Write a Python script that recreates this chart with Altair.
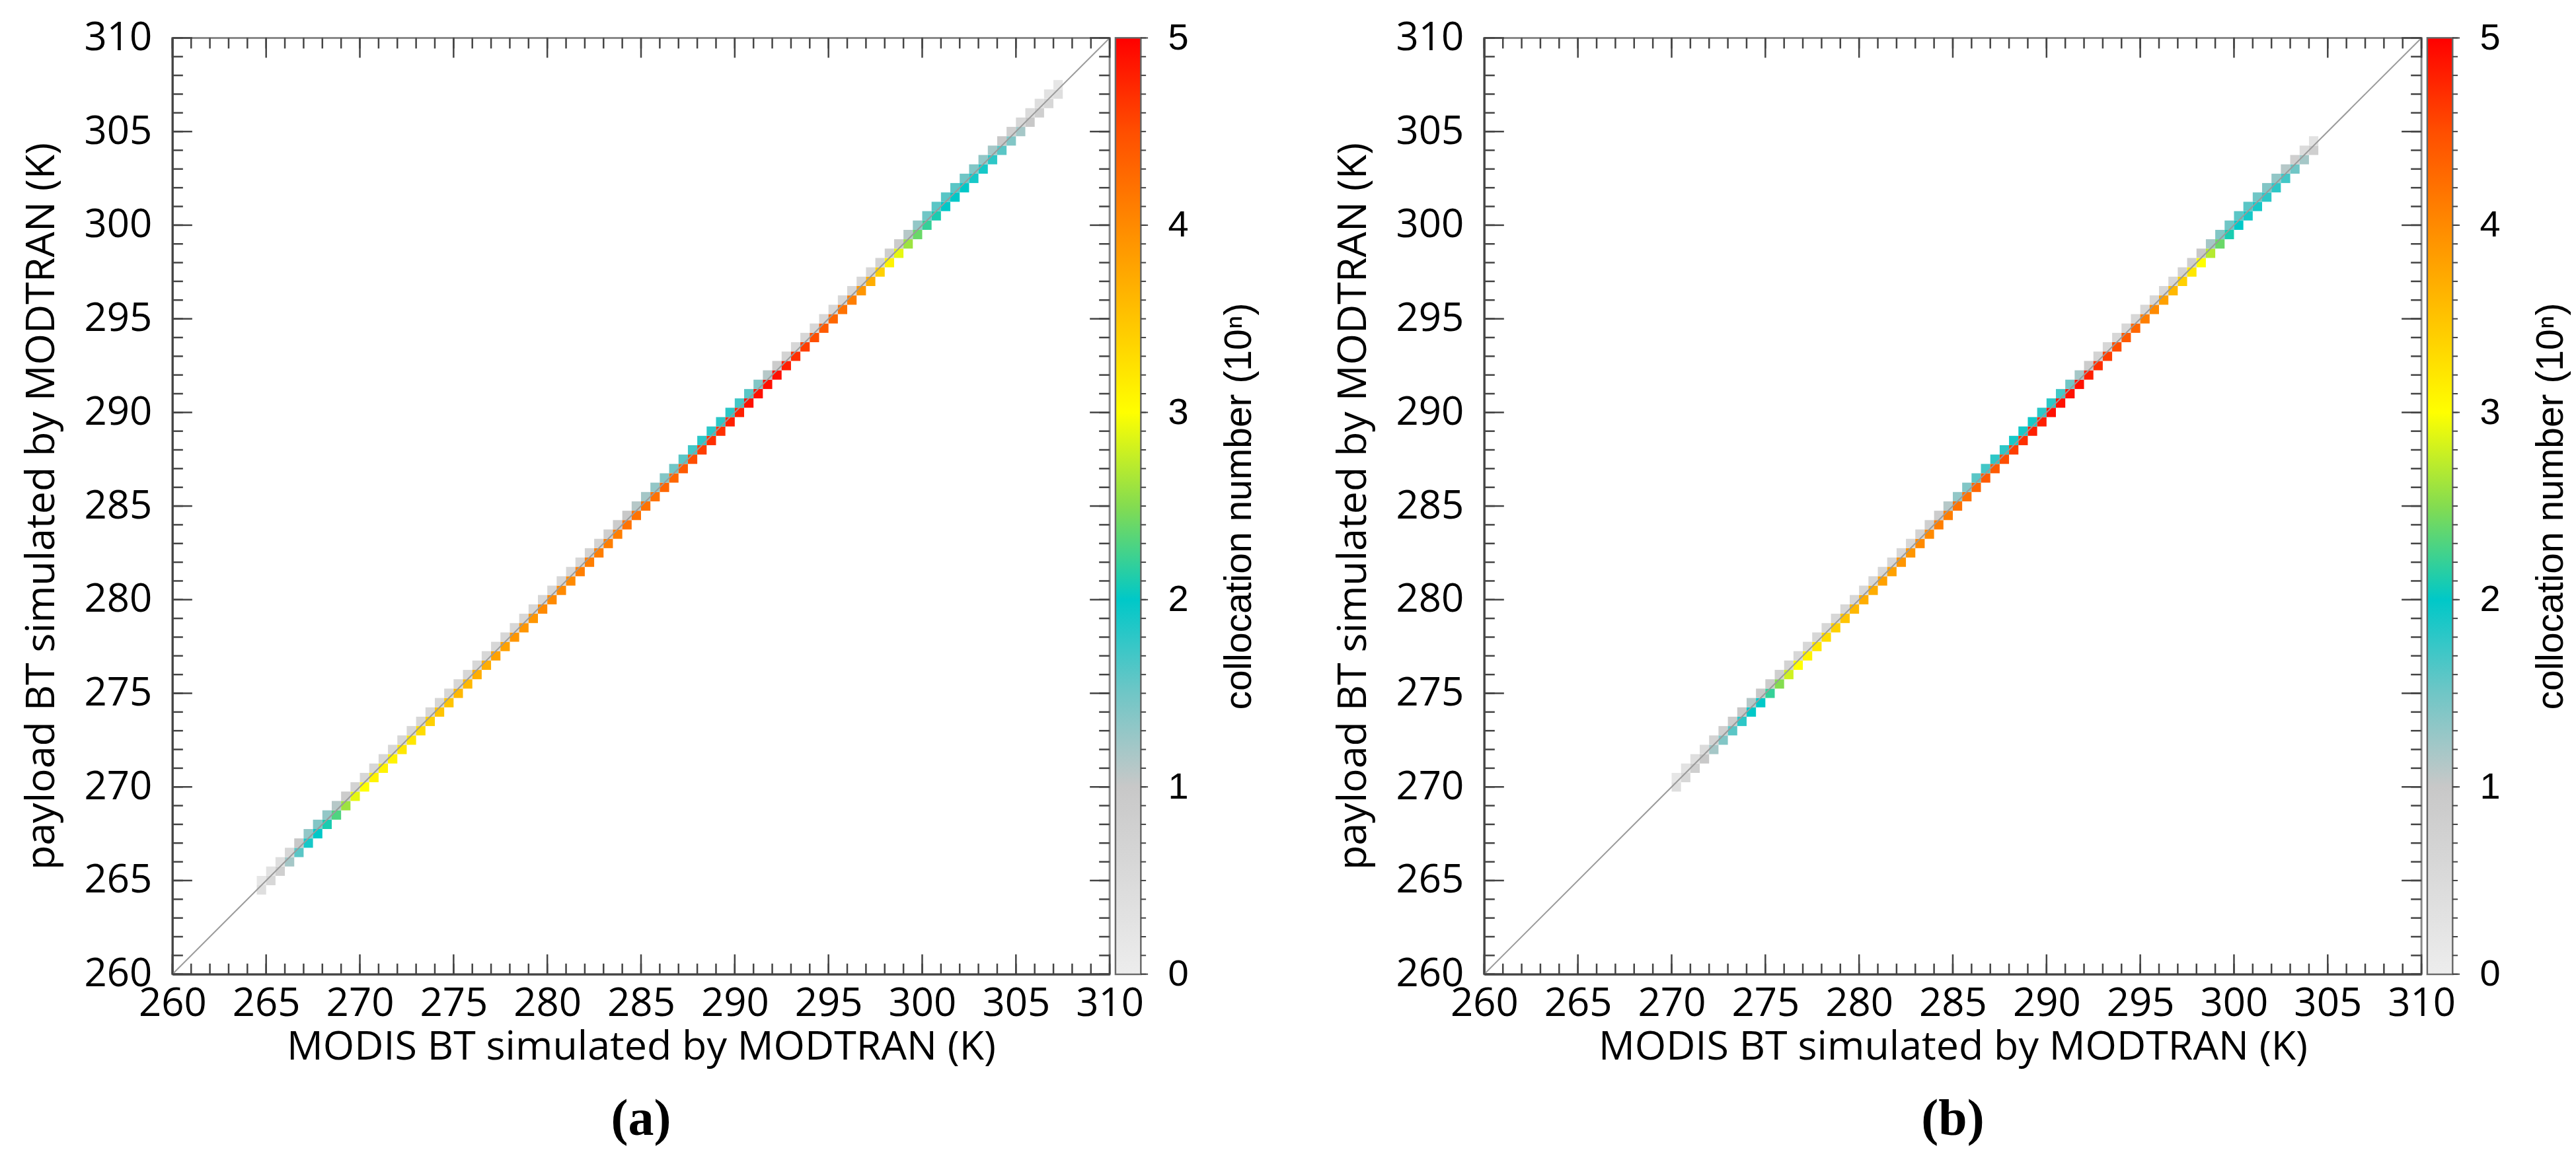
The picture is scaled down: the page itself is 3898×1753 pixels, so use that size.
import altair as alt
import pandas as pd

# ---------------- data ----------------
AX_MIN, AX_MAX = 260, 310
MAJOR_TICKS = [260, 265, 270, 275, 280, 285, 290, 295, 300, 305, 310]
MINOR_TICKS = list(range(260, 311))
CB_MAJOR = [0, 1, 2, 3, 4, 5]
CB_MINOR = [round(i * 0.1, 1) for i in range(51)]

BIN_W = 0.5  # K, width of one density cell

# panel (a): log10 collocation counts along the 1:1 line (cells start at 264.5 K)
a_start = 264.5
a_main = [0.4, 0.6, 0.8, 1.2, 1.6, 1.9, 2.0, 2.1, 2.3, 2.6,
          2.9, 3.0, 3.1, 3.1, 3.1, 3.2, 3.2, 3.3, 3.4, 3.5,
          3.5, 3.6, 3.6, 3.7, 3.7, 3.8, 3.8, 3.9, 3.9, 3.9,
          4.0, 4.0, 4.0, 4.0, 4.1, 4.1, 4.1, 4.1, 4.1, 4.2,
          4.2, 4.2, 4.2, 4.3, 4.3, 4.4, 4.5, 4.6, 4.7, 4.7,
          4.8, 4.8, 4.9, 4.9, 4.9, 4.9, 4.8, 4.7, 4.6, 4.5,
          4.4, 4.3, 4.2, 4.1, 3.9, 3.7, 3.4, 3.1, 2.9, 2.6,
          2.4, 2.2, 2.1, 2.0, 2.0, 2.0, 1.9, 1.9, 1.8, 1.6,
          1.4, 1.2, 1.0, 0.8, 0.6, 0.4]
a_upper = [0.2, 0.3, 0.4, 0.6, 1.0, 1.3, 1.4, 1.3, 1.1, 0.9,
           0.7, 0.6, 0.6, 0.6, 0.6, 0.6, 0.6, 0.6, 0.6, 0.6,
           0.6, 0.6, 0.6, 0.6, 0.6, 0.6, 0.6, 0.6, 0.6, 0.6,
           0.6, 0.6, 0.6, 0.6, 0.6, 0.7, 0.7, 0.8, 0.9, 1.0,
           1.1, 1.2, 1.3, 1.4, 1.5, 1.6, 1.7, 1.8, 1.8, 1.8,
           1.8, 1.7, 1.6, 1.4, 1.1, 0.9, 0.7, 0.6, 0.6, 0.6,
           0.6, 0.6, 0.6, 0.6, 0.6, 0.6, 0.7, 0.8, 0.9, 1.1,
           1.3, 1.5, 1.6, 1.6, 1.6, 1.5, 1.4, 1.3, 1.2, 1.0,
           0.8, 0.6, 0.5, 0.4, 0.3, 0.2]

# panel (b): cells start at 270.0 K
b_start = 270.0
b_main = [0.4, 0.6, 0.8, 1.0, 1.2, 1.4, 1.6, 1.8, 2.0, 2.0,
          2.2, 2.5, 2.8, 3.0, 3.1, 3.2, 3.3, 3.4, 3.5, 3.6,
          3.7, 3.7, 3.8, 3.8, 3.9, 3.9, 4.0, 4.0, 4.1, 4.1,
          4.2, 4.2, 4.3, 4.4, 4.4, 4.5, 4.6, 4.7, 4.8, 4.8,
          4.9, 4.9, 4.9, 4.9, 4.8, 4.7, 4.6, 4.5, 4.4, 4.3,
          4.1, 4.0, 3.8, 3.6, 3.4, 3.2, 3.0, 2.7, 2.4, 2.1,
          2.0, 1.9, 1.9, 1.8, 1.8, 1.7, 1.5, 1.2, 0.8]
b_upper = [0.2, 0.3, 0.4, 0.5, 0.7, 0.8, 0.9, 1.0, 1.1, 1.0,
           0.9, 0.8, 0.7, 0.6, 0.6, 0.6, 0.6, 0.6, 0.6, 0.6,
           0.6, 0.6, 0.6, 0.6, 0.6, 0.6, 0.7, 0.8, 0.9, 1.1,
           1.3, 1.4, 1.6, 1.7, 1.8, 1.8, 1.9, 1.9, 1.9, 1.8,
           1.8, 1.7, 1.5, 1.2, 0.9, 0.7, 0.6, 0.6, 0.6, 0.6,
           0.6, 0.6, 0.6, 0.6, 0.7, 0.8, 1.0, 1.2, 1.4, 1.5,
           1.6, 1.6, 1.5, 1.4, 1.3, 1.1, 0.8, 0.5, 0.3]

CMAP_DOMAIN = [0, 1, 1.5, 2, 2.5, 3, 3.5, 4, 4.5, 5]
CMAP_COLORS = ["#ededed", "#c8c8c8", "#70c6c6", "#00c8c8", "#84dc50",
               "#ffff00", "#ffc400", "#ff8a00", "#ff4e00", "#ff0000"]

# ---------------- layout / style ----------------
W, H = 1419, 1418
CB_GAP, CB_W = 9, 38
PANEL_GAP = 502          # invisible spacer between colour bar (a) and panel (b)
LABEL_FONT = "Open Sans"
CB_FONT = "Liberation Sans"
AXIS_COLOR = "#444444"


def cells_frame(start, main_vals, upper_vals):
    rows = []
    for i, (m, u) in enumerate(zip(main_vals, upper_vals)):
        lo = start + BIN_W * i
        hi = lo + BIN_W
        rows.append(dict(x0=lo, x1=hi, y0=lo - BIN_W / 2, y1=lo + BIN_W / 2, v=m))
        rows.append(dict(x0=lo, x1=hi, y0=lo + BIN_W / 2, y1=lo + 1.5 * BIN_W, v=u))
    return pd.DataFrame(rows)


cscale = alt.Scale(domain=CMAP_DOMAIN, range=CMAP_COLORS, interpolate="rgb", clamp=True)


def plot_panel(start, main_vals, upper_vals, label):
    xs = alt.Scale(domain=[AX_MIN, AX_MAX], nice=False, zero=False)
    ys = alt.Scale(domain=[AX_MIN, AX_MAX], nice=False, zero=False)
    xaxis = alt.Axis(title="MODIS BT simulated by MODTRAN (K)", values=MAJOR_TICKS,
                     ticks=False, grid=False, labelFlush=False,
                     labelOverlap=False, labelPadding=16, labelFont=LABEL_FONT,
                     labelFontSize=60, labelColor="#000", titleFont=LABEL_FONT,
                     titleFontSize=61, titleFontWeight="normal", titleColor="#000",
                     titlePadding=6, domainColor=AXIS_COLOR, domainWidth=3)
    yaxis = alt.Axis(title="payload BT simulated by MODTRAN (K)", values=MAJOR_TICKS,
                     ticks=False, grid=False, labelFlush=False,
                     labelOverlap=False, labelPadding=31, labelFont=LABEL_FONT,
                     labelFontSize=60, labelColor="#000", titleFont=LABEL_FONT,
                     titleFontSize=61, titleFontWeight="normal", titleColor="#000",
                     titlePadding=33, domainColor=AXIS_COLOR, domainWidth=3)

    df = cells_frame(start, main_vals, upper_vals)
    cells = alt.Chart(df).mark_rect(strokeWidth=0).encode(
        x=alt.X("x0:Q", scale=xs, axis=xaxis), x2="x1:Q",
        y=alt.Y("y0:Q", scale=ys, axis=yaxis), y2="y1:Q",
        color=alt.Color("v:Q", scale=cscale, legend=None),
    )
    diag = alt.Chart(pd.DataFrame({"x": [AX_MIN, AX_MAX], "y": [AX_MIN, AX_MAX]})).mark_line(
        color="#9a9a9a", strokeWidth=2).encode(
        x=alt.X("x:Q", scale=xs, axis=xaxis), y=alt.Y("y:Q", scale=ys, axis=yaxis))

    layers = [cells, diag]
    for ticks, L in ((MINOR_TICKS, 16), (MAJOR_TICKS, 30)):
        tdf = pd.DataFrame({"t": ticks})
        base = alt.Chart(tdf).mark_rule(color=AXIS_COLOR, strokeWidth=2.5)
        layers.append(base.encode(x=alt.X("t:Q", scale=xs, axis=xaxis), y=alt.value(H), y2=alt.value(H - L)))
        layers.append(base.encode(x=alt.X("t:Q", scale=xs, axis=xaxis), y=alt.value(0), y2=alt.value(L)))
        layers.append(base.encode(y=alt.Y("t:Q", scale=ys, axis=yaxis), x=alt.value(0), x2=alt.value(L)))
        layers.append(base.encode(y=alt.Y("t:Q", scale=ys, axis=yaxis), x=alt.value(W), x2=alt.value(W - L)))

    return alt.layer(*layers).properties(
        width=W, height=H,
        title=alt.TitleParams(label, orient="bottom", anchor="middle", frame="group",
                              font="Liberation Serif", fontSize=78, fontWeight="bold",
                              color="#000", offset=40))


def colour_bar():
    cbs = alt.Scale(domain=[0, 5], nice=False, zero=False)
    cbaxis = alt.Axis(orient="right", values=CB_MAJOR, ticks=False,
                      domain=False, grid=False, labelFlush=False,
                      labelOverlap=False, labelPadding=41, labelFont=CB_FONT,
                      labelFontSize=56, labelColor="#000", labelAlign="left",
                      title="collocation number (10\u207f)", titleFont=CB_FONT,
                      titleFontSize=57, titleFontWeight="normal", titleColor="#000",
                      titleAngle=270, titleBaseline="top", titlePadding=49)
    gradient = {"gradient": "linear", "x1": 0, "y1": 1, "x2": 0, "y2": 0,
                "stops": [{"offset": d / 5, "color": c} for d, c in zip(CMAP_DOMAIN, CMAP_COLORS)]}
    cb_rect = alt.Chart(pd.DataFrame({"lo": [0], "hi": [5]})).mark_rect(
        fill=gradient, stroke="#666666", strokeWidth=2).encode(
        y=alt.Y("lo:Q", scale=cbs, axis=cbaxis), y2="hi:Q",
        x=alt.value(0), x2=alt.value(CB_W))
    layers = [cb_rect]
    for ticks, L in ((CB_MINOR, 8), (CB_MAJOR, 11)):
        layers.append(alt.Chart(pd.DataFrame({"t": ticks})).mark_rule(
            color=AXIS_COLOR, strokeWidth=2).encode(
            y=alt.Y("t:Q", scale=cbs, axis=cbaxis),
            x=alt.value(CB_W), x2=alt.value(CB_W + L)))
    return alt.layer(*layers).properties(width=CB_W, height=H)


spacer = alt.Chart(pd.DataFrame({"s": [0]})).mark_point(opacity=0).encode(
    x=alt.value(0), y=alt.value(0)).properties(
    width=PANEL_GAP, height=H, view=alt.ViewBackground(strokeOpacity=0))

pa = plot_panel(a_start, a_main, a_upper, "(a)")
pb = plot_panel(b_start, b_main, b_upper, "(b)")

chart = alt.hconcat(pa, colour_bar(), spacer, pb, colour_bar(),
                    spacing=CB_GAP, bounds="flush").properties(
    padding={"left": 22, "top": 17, "right": 0, "bottom": 5}
).configure_view(stroke="#888888", strokeWidth=3).configure_axis(grid=False)

chart.save("out.html", embed_options={"renderer": "svg", "actions": False})
